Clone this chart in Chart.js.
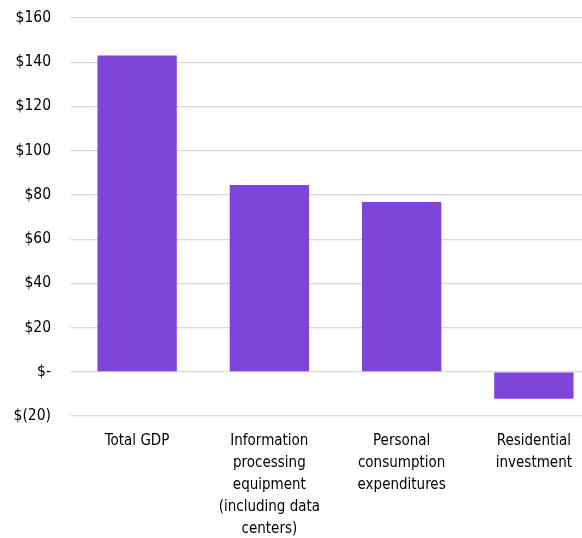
<!DOCTYPE html>
<html>
<head>
<meta charset="utf-8">
<script src="https://cdn.jsdelivr.net/npm/chart.js@4.4.1/dist/chart.umd.min.js"></script>
<style>
  html, body { margin: 0; padding: 0; background: #fff; overflow: hidden; }
  #wrap { width: 600px; height: 538px; position: relative; }
</style>
</head>
<body>
<div id="wrap"><canvas id="chart"></canvas></div>
<script>
const BAR_COLOR = "rgb(127, 69, 217)";
const FONT = "'Liberation Sans Narrow', 'DejaVu Sans Condensed', 'Roboto', sans-serif";

const CATEGORIAS = [
  ["Total GDP"],
  ["Information", "processing", "equipment", "(including data", "centers)"],
  ["Personal", "consumption", "expenditures"],
  ["Residential", "investment"],
];

const VALORES = [143, 84.5, 76.8, -12.2];

const Y_MIN = -20;
const Y_MAX = 160;
const Y_STEP = 20;

function formato_dolar(v) {
  // accounting style: zero is "$-", negatives in parentheses
  if (v === 0) return "$-";
  if (v < 0) return "$(" + (-v) + ")";
  return "$" + v;
}

const ctx = document.getElementById("chart");

new Chart(ctx, {
  type: "bar",
  data: {
    labels: CATEGORIAS,
    datasets: [{
      data: VALORES,
      backgroundColor: BAR_COLOR,
      borderWidth: 0,
      barPercentage: 0.6,
      categoryPercentage: 1.0,
    }]
  },
  options: {
    responsive: true,
    maintainAspectRatio: false,
    animation: false,
    layout: { padding: { top: 18, right: 0, bottom: 0, left: 0 } },
    plugins: {
      legend: { display: false },
      tooltip: { enabled: false },
    },
    scales: {
      x: {
        grid: { display: false, drawTicks: false },
        border: { display: false },
        ticks: {
          color: "#000",
          padding: 14,
          maxRotation: 0,
          autoSkip: false,
          font: { family: FONT, size: 15, lineHeight: 1.47 },
        },
        afterFit: (axis) => { axis.height = 122; },
      },
      y: {
        min: Y_MIN,
        max: Y_MAX,
        // tick marks are invisible, they only keep the labels away from the grid
        grid: { color: "#d9d9d9", lineWidth: 1.2, drawTicks: true, tickLength: 20, tickColor: "rgba(0,0,0,0)" },
        border: { display: false },
        ticks: {
          stepSize: Y_STEP,
          color: "#000",
          padding: 0,
          font: { family: FONT, size: 15.5 },
          callback: (v) => formato_dolar(v),
        },
        afterFit: (axis) => { axis.width = 71; },
      }
    }
  }
});
</script>
</body>
</html>
